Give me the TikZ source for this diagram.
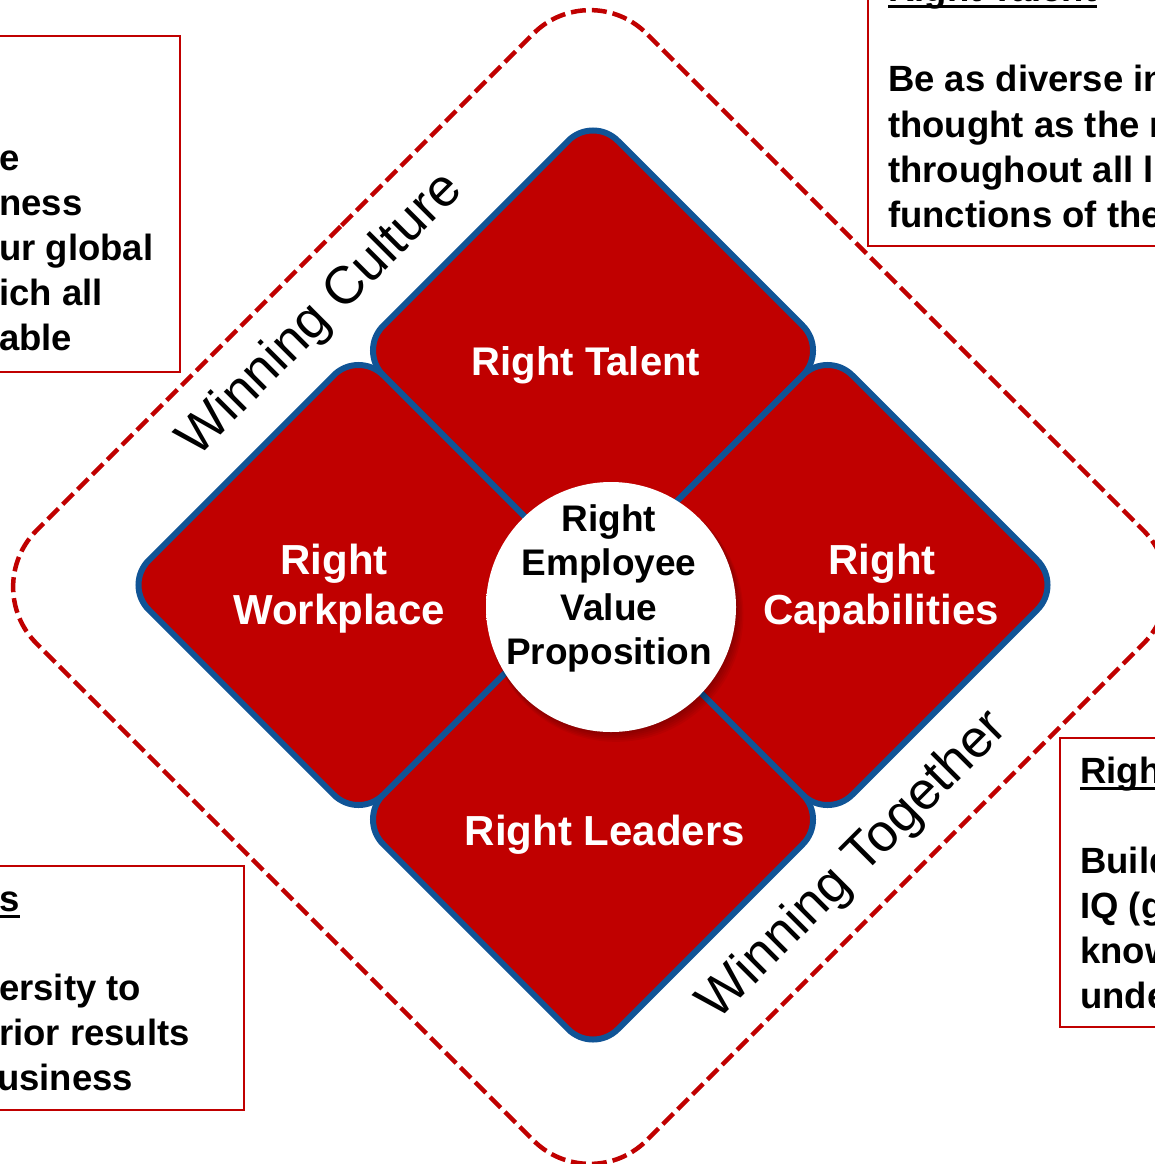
\documentclass[tikz,border=0pt]{standalone}
\usepackage{fontspec}
\setmainfont{Liberation Sans}
\definecolor{dred}{RGB}{192,0,0}
\definecolor{dblue}{RGB}{16,84,150}
\pgfdeclareradialshading{button}{\pgfpoint{-6bp}{6bp}}{color(0bp)=(white); color(30bp)=(white); color(44bp)=(black!12); color(50bp)=(black!32)}
\begin{document}
\begin{tikzpicture}[x=1pt,y=-1pt,
  quad/.style={fill=dred,draw=dblue,line width=6pt,rounded corners=35pt},
  qlabel/.style={text=white,font=\fontsize{42}{50}\selectfont\bfseries,inner sep=0pt,anchor=base},
  clabel/.style={text=black,font=\fontsize{37}{44}\selectfont\bfseries,inner sep=0pt,anchor=base},
  wlabel/.style={text=black,font=\fontsize{53}{60}\selectfont,rotate=45,inner sep=0pt},
  infobox/.style={draw=dred,line width=2.5pt},
  infotext/.style={text=black,font=\fontsize{36.5}{45}\selectfont\bfseries,inner sep=0pt,anchor=base west},
  uline/.style={line width=3pt}]
\useasboundingbox (0,0) rectangle (1155,1164);
\fill[white] (0,0) rectangle (1155,1164);
\clip (0,0) rectangle (1155,1164);

% outer dashed diamond
\draw[draw=dred,line width=4.5pt,dash pattern=on 15pt off 6pt,rounded corners=80pt]
  (285,282) -- (590,-23) -- (1200,587) -- (590,1197) -- (-20,587) -- cycle;

% four quadrants
\foreach \cx/\cy in {593/350.5, 827.5/585, 593/819.5, 358.5/585}
  \draw[quad] (\cx-117.25,\cy-117.25) -- (\cx,\cy-234.5) -- (\cx+234.5,\cy)
     -- (\cx,\cy+234.5) -- (\cx-234.5,\cy) -- cycle;

\node[qlabel,font=\fontsize{40}{48}\selectfont\bfseries] (talent) at (586,375) {Right Talent};
\node[qlabel] (wp1) at (334,574) {Right};
\node[qlabel] (wp2) at (339,624) {Workplace};
\node[qlabel] (cap1) at (882,574) {Right};
\node[qlabel] (cap2) at (881,624) {Capabilities};
\node[qlabel] (lead) at (605,845) {Right Leaders};

% centre button
\foreach \k in {1,...,6}
  \fill[black,opacity=0.05] (611+\k*0.8,607+\k*1.2) circle (124+\k*0.6);
\shade[shading=button] (611,607) circle (125);
\node[clabel] (e1) at (609,531) {Right};
\node[clabel] (e2) at (609,575) {Employee};
\node[clabel] (e3) at (609,620) {Value};
\node[clabel] (e4) at (609,664) {Proposition};

% rotated labels
\node[wlabel] (wc) at (321,315) {Winning Culture};
\node[wlabel] (wt) at (854,866) {Winning Together};

% top-left box
\draw[infobox] (-10,36) rectangle (180,372);
\node[infotext] (tl1) at (-1,170) {e};
\node[infotext] (tl2) at (-1,215) {ness};
\node[infotext] (tl3) at (-1,260) {ur global};
\node[infotext] (tl4) at (-1,305) {ich all};
\node[infotext] (tl5) at (-1,350) {able};

% top-right box
\draw[infobox] (868,-10) rectangle (1165,246);
\node[infotext] (trh) at (888,2) {Right Talent};
\draw[uline] ([yshift=-5pt]trh.base west) -- ([yshift=-5pt]trh.base east);
\node[infotext] (tr1) at (888,92) {Be as diverse in};
\node[infotext] (tr2) at (888,137) {thought as the m};
\node[infotext] (tr3) at (888,182) {throughout all l};
\node[infotext] (tr4) at (888,227) {functions of the};

% bottom-left box
\draw[infobox] (-10,866) rectangle (244,1110);
\node[infotext] (blh) at (-1,911) {s};
\draw[uline] ([yshift=-5pt]blh.base west) -- ([yshift=-5pt]blh.base east);
\node[infotext] (bl1) at (-1,1000) {ersity to};
\node[infotext] (bl2) at (-1,1045) {rior results};
\node[infotext] (bl3) at (-3,1090) {usiness};

% right box
\draw[infobox] (1060,738) rectangle (1165,1027);
\node[infotext] (rbh) at (1080,783) {Righ};
\draw[uline] ([yshift=-5pt]rbh.base west) -- ([yshift=-5pt]rbh.base east);
\node[infotext] (rb1) at (1080,873) {Build};
\node[infotext] (rb2) at (1080,918) {IQ (g};
\node[infotext] (rb3) at (1080,963) {know};
\node[infotext] (rb4) at (1080,1008) {unde};
\end{tikzpicture}
\end{document}
